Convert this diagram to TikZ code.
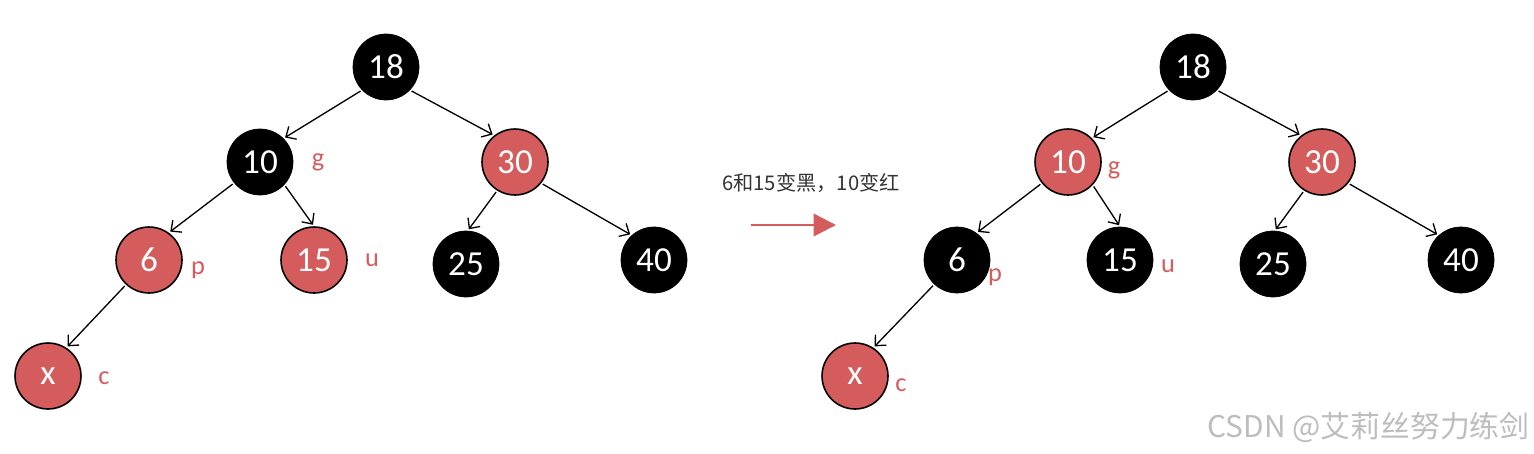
\documentclass[tikz,border=0pt]{standalone}
\usepackage{fontspec}
\setmainfont{Carlito}
\newfontfamily\cjkfont{Noto Sans CJK SC}
\usetikzlibrary{arrows.meta}
\definecolor{rbRed}{HTML}{D55C5C}
\definecolor{rbMark}{gray}{0.74}

\begin{document}
\begin{tikzpicture}[x=0.02cm, y=-0.02cm,
  blk/.style={circle, fill=black, draw=black, minimum size=1.32cm, inner sep=0pt, text=white, font=\fontsize{20}{22}\selectfont},
  red/.style={circle, fill=rbRed, draw=black, line width=0.9pt, minimum size=1.32cm, inner sep=0pt, text=white, font=\fontsize{20}{22}\selectfont},
  tag/.style={text=rbRed, font=\fontsize{15}{17}\selectfont},
  link/.style={-{Straight Barb[length=1.6mm, width=3mm]}, line width=0.75pt, shorten >=1pt, shorten <=1pt}]
\useasboundingbox (0,0) rectangle (1534,453);

% before
\node[blk] (a18) at (386,67)  {18};
\node[blk] (a10) at (260,162) {10};
\node[red] (a30) at (515,162) {30};
\node[red] (a6)  at (149,260) {6};
\node[red] (a15) at (314,260) {15};
\node[blk] (a25) at (466,264) {25};
\node[blk] (a40) at (654,260) {40};
\node[red] (ax)  at (48,376)  {x};
\node[tag] (ag) at (318,162) {g};
\node[tag] (ap) at (198,270) {p};
\node[tag] (au) at (372,260) {u};
\node[tag] (ac) at (104,378) {c};

\draw[link] (a18.224) -- (a10.45);
\draw[link] (a18.316) -- (a30.128);
\draw[link] (a10.219) -- (a6.54);
\draw[link] (a10.317) -- (a15.90);
\draw[link] (a6.227)  -- (ax.57);
\draw[link] (a30.238) -- (a25.87);
\draw[link] (a30.321) -- (a40.132);

% recolouring step
\node[font=\cjkfont\fontsize{11.5}{14}\selectfont, text=black!80] (msg) at (811,183) {6和15变黑，10变红};
\coordinate (go) at (751,225);
\coordinate (to) at (836,225);
\draw[-{Triangle[length=4.5mm, width=4.5mm]}, line width=1.4pt, rbRed] (go) -- (to);

% after
\node[blk] (b18) at (1193,67)  {18};
\node[red] (b10) at (1068,162) {10};
\node[red] (b30) at (1322,162) {30};
\node[blk] (b6)  at (957,260)  {6};
\node[blk] (b15) at (1120,260) {15};
\node[blk] (b25) at (1273,264) {25};
\node[blk] (b40) at (1461,260) {40};
\node[red] (bx)  at (855,376)  {x};
\node[tag] (bg) at (1114,170) {g};
\node[tag] (bp) at (995,277)  {p};
\node[tag] (bu) at (1168,266) {u};
\node[tag] (bc) at (901,385)  {c};

\draw[link] (b18.224) -- (b10.45);
\draw[link] (b18.316) -- (b30.128);
\draw[link] (b10.219) -- (b6.54);
\draw[link] (b10.317) -- (b15.90);
\draw[link] (b6.227)  -- (bx.57);
\draw[link] (b30.238) -- (b25.87);
\draw[link] (b30.321) -- (b40.132);

\node[font=\cjkfont\fontsize{17}{19}\selectfont, text=rbMark, anchor=east, inner sep=0pt] (mark) at (1530,427) {CSDN @艾莉丝努力练剑};
\end{tikzpicture}
\end{document}
